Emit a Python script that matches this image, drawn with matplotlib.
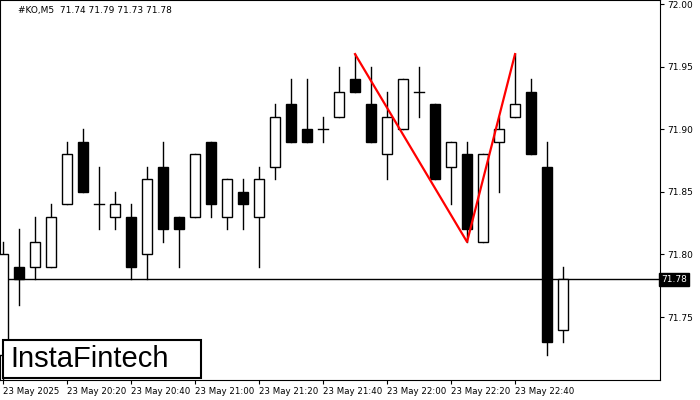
import matplotlib
matplotlib.use("Agg")
import matplotlib.pyplot as plt
from matplotlib.patches import Rectangle

# OHLC, 5-minute candles starting 23 May 20:00
opens  = [71.72, 71.79, 71.79, 71.79, 71.84, 71.89, 71.84, 71.83, 71.83, 71.80, 71.87, 71.83,
          71.83, 71.89, 71.83, 71.85, 71.83, 71.87, 71.92, 71.90, 71.90, 71.91, 71.94, 71.92,
          71.88, 71.90, 71.93, 71.92, 71.87, 71.88, 71.81, 71.89, 71.91, 71.93, 71.87, 71.74]
closes = [71.80, 71.78, 71.81, 71.83, 71.88, 71.85, 71.84, 71.84, 71.79, 71.86, 71.82, 71.82,
          71.88, 71.84, 71.86, 71.84, 71.86, 71.91, 71.89, 71.89, 71.90, 71.93, 71.93, 71.89,
          71.91, 71.94, 71.93, 71.86, 71.89, 71.82, 71.88, 71.90, 71.92, 71.88, 71.73, 71.78]
highs  = [71.81, 71.82, 71.83, 71.84, 71.89, 71.90, 71.87, 71.85, 71.84, 71.87, 71.89, 71.83,
          71.88, 71.89, 71.86, 71.86, 71.87, 71.92, 71.94, 71.94, 71.91, 71.95, 71.96, 71.95,
          71.93, 71.94, 71.95, 71.92, 71.89, 71.89, 71.88, 71.91, 71.96, 71.94, 71.89, 71.79]
lows   = [71.70, 71.76, 71.78, 71.79, 71.84, 71.85, 71.82, 71.82, 71.78, 71.78, 71.81, 71.79,
          71.83, 71.83, 71.82, 71.82, 71.79, 71.86, 71.89, 71.89, 71.89, 71.91, 71.93, 71.89,
          71.86, 71.90, 71.91, 71.86, 71.84, 71.81, 71.81, 71.85, 71.91, 71.88, 71.72, 71.73]

pattern_idx = [22, 29, 32]
pattern_px = [71.96, 71.81, 71.96]
last_price = 71.78

xtick_idx = [0, 4, 8, 12, 16, 20, 24, 28, 32]
xtick_labels = ["23 May 2025", "23 May 20:20", "23 May 20:40", "23 May 21:00", "23 May 21:20",
                "23 May 21:40", "23 May 22:00", "23 May 22:20", "23 May 22:40"]
yticks = [71.75, 71.80, 71.85, 71.90, 71.95, 72.00]

fig = plt.figure(figsize=(7, 4), dpi=100)
ax = fig.add_axes([0, 0.05, 660 / 700, 0.95])

w = 0.6
for i, (o, c, h, l) in enumerate(zip(opens, closes, highs, lows)):
    ax.plot([i, i], [l, h], color="black", lw=1, zorder=2)
    lo, hi = min(o, c), max(o, c)
    if hi - lo < 0.002:
        ax.plot([i - w / 2, i + w / 2], [o, o], color="black", lw=1, zorder=3)
    else:
        ax.add_patch(Rectangle((i - w / 2, lo), w, hi - lo, facecolor="black" if c < o else "white",
                               edgecolor="black", lw=1, zorder=3))

ax.axhline(last_price, color="black", lw=1, zorder=1)
ax.plot(pattern_idx, pattern_px, color="red", lw=1.6, zorder=4)

ax.set_xlim(-0.19, 41.06)
ax.set_ylim(71.6997, 72.0032)
ax.yaxis.tick_right()
ax.set_yticks(yticks)
ax.set_yticklabels([f"{v:.2f}" for v in yticks], fontsize=6.5)
ax.set_xticks(xtick_idx)
ax.set_xticklabels(xtick_labels, fontsize=6.2, ha="left")
ax.tick_params(length=3, pad=2)

ax.text(1.002, last_price, f"{last_price:.2f}", transform=ax.get_yaxis_transform(),
        fontsize=6.5, color="white", va="center", ha="left",
        bbox=dict(boxstyle="square,pad=0.25", fc="black", ec="black"))
ax.text(0.027, 0.985, "#KO,M5  71.74 71.79 71.73 71.78", transform=ax.transAxes,
        fontsize=6.5, va="top", ha="left")

fig.patches.append(Rectangle((3 / 700, 1 - 378 / 400), 198 / 700, 38 / 400, transform=fig.transFigure,
                             fc="white", ec="black", lw=1.5, zorder=5))
fig.text(10 / 700, 1 - 373 / 400, "InstaFintech", fontsize=21, color="black", va="bottom", ha="left",
         family="Liberation Sans", zorder=6)

fig.savefig("out.png", dpi=100)
